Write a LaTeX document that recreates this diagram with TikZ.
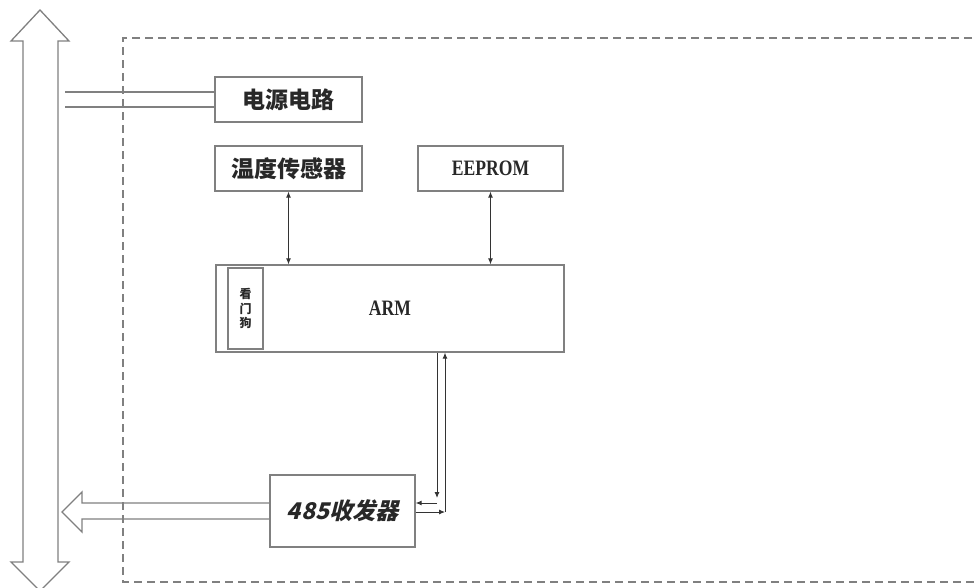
\documentclass[tikz,border=0pt]{standalone}
\usepackage{fontspec}
\setmainfont{Liberation Serif}
\newfontfamily\cjk{Noto Sans CJK SC}
\newfontfamily\cjkslant{Noto Sans CJK SC}[FakeSlant=0.25]
\usepackage{tikz}
\usetikzlibrary{arrows.meta, positioning, calc}
\definecolor{linegray}{RGB}{128, 128, 128}
\definecolor{textdark}{RGB}{40, 40, 40}

\tikzset{
    block/.style={draw=linegray, line width=1.3pt, fill=white, minimum width=147pt, minimum height=45pt, inner sep=0pt, text=textdark},
    bus/.style={draw=linegray, line width=1.3pt, line join=miter},
    link/.style={draw=black!80, line width=0.9pt, {Latex[length=6pt,width=5pt]}-{Latex[length=6pt,width=5pt]}},
    onelink/.style={draw=black!80, line width=0.9pt, -{Latex[length=6pt,width=5pt]}}
}

\begin{document}
\begin{tikzpicture}[x=1pt, y=-1pt]
\useasboundingbox (0,0) rectangle (976,587);

% outer dashed frame (open on the right)
\draw[linegray, line width=1.2pt, dash pattern=on 8pt off 5pt] (985,38) -- (123,38) -- (123,582) -- (985,582);

% system bus
\draw[bus] (40,10) -- (69,41) -- (58,41) -- (58,562) -- (69,562) -- (40,591) -- (11,562) -- (23,562) -- (23,41) -- (11,41) -- cycle;

% blocks
\node[block] (power) at (288.5,99.5) {\cjk\bfseries\fontsize{23}{23}\selectfont 电源电路};
\node[block] (tempsensor) at (288.5,168.5) {\cjk\bfseries\fontsize{23}{23}\selectfont 温度传感器};
\node[block, minimum width=145pt] (eeprom) at (490.5,168.5) {\bfseries\fontsize{22}{22}\selectfont\scalebox{0.8}[1]{EEPROM}};
\node[block, minimum width=348pt, minimum height=87pt] (arm) at (390,308.5) {\bfseries\fontsize{22}{22}\selectfont\scalebox{0.8}[1]{ARM}};
\node[block, minimum width=35pt, minimum height=81pt] (watchdog) at (245.5,308.5) {\cjk\bfseries\fontsize{12}{13}\selectfont\shortstack{看\\门\\狗}};
\node[block, minimum width=145pt, minimum height=72pt] (rs485) at (342.5,511) {\cjkslant\bfseries\fontsize{23}{23}\selectfont 485收发器};

% power feed from the bus
\coordinate (p1) at (65,92);
\coordinate (p2) at (65,107);
\draw[bus] (p1) -- (p1 -| power.west);
\draw[bus] (p2) -- (p2 -| power.west);

% peripherals to ARM
\draw[link] (tempsensor.south) -- (tempsensor.south |- arm.north);
\draw[link] (eeprom.south) -- (eeprom.south |- arm.north);

% ARM to 485
\coordinate (d1) at (437,498);
\coordinate (t1) at (437,503);
\coordinate (d2) at (445,512);
\draw[onelink] (arm.south -| d1) -- (d1);
\draw[onelink] (t1) -- (t1 -| rs485.east);
\draw[onelink] (rs485.east |- d2) -- (d2);
\draw[onelink] (d2) -- (arm.south -| d2);

% 485 out to the bus
\draw[bus] (rs485.west |- 0,503) -- (82,503) -- (82,492) -- (62,512) -- (82,532) -- (82,519) -- (rs485.west |- 0,519);
\end{tikzpicture}
\end{document}
